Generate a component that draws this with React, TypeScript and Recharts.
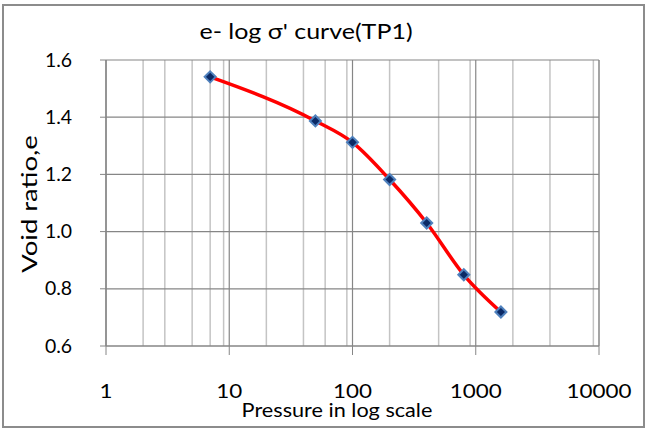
import React from 'react';
import { LineChart, Line, XAxis, YAxis, CartesianGrid, Customized } from 'recharts';

const pressures = [7, 50, 100, 200, 400, 800, 1600];
const voidRatios = [1.541, 1.387, 1.312, 1.182, 1.03, 0.849, 0.719];
const xTicks = [1, 10, 100, 1000, 10000];
const minorTicks = [
  2, 3, 4, 5, 6, 7, 8, 9,
  20, 30, 40, 50, 60, 70, 80, 90,
  200, 300, 400, 500, 600, 700, 800, 900,
  2000, 3000, 4000, 5000, 6000, 7000, 8000, 9000,
];
const yTicks = [0.6, 0.8, 1.0, 1.2, 1.4, 1.6];
const chartTitle = "e- log σ' curve(TP1)";
const xLabel = 'Pressure in log scale';
const yLabel = 'Void ratio,e';

const data = pressures.map((p, i) => ({ p, e: voidRatios[i] }));

const FONT = "Lato, 'Open Sans', sans-serif";
const MAJOR = '#868686';
const MINOR = '#c4c4c4';

const XTick = (props: any) => {
  const { x, y, payload } = props;
  return (
    <g transform={`translate(${x},${y}) scale(1.18,1)`}>
      <text x={0} y={0} dy={43} textAnchor="middle" fontFamily={FONT} fontSize={19} fill="#000">
        {payload.value}
      </text>
    </g>
  );
};

const YTick = (props: any) => {
  const { x, y, payload } = props;
  return (
    <g transform={`translate(${x - 28},${y}) scale(1.05,1)`}>
      <text x={0} y={0} dy={6.5} textAnchor="end" fontFamily={FONT} fontSize={18.5} fill="#000">
        {Number(payload.value).toFixed(1)}
      </text>
    </g>
  );
};

const Diamond = (props: any) => {
  const { cx, cy } = props;
  if (cx == null || cy == null) return null;
  const r = 5.5;
  return (
    <polygon
      points={`${cx},${cy - r} ${cx + r},${cy} ${cx},${cy + r} ${cx - r},${cy}`}
      fill="#0b2a66"
      stroke="#4f81bd"
      strokeWidth={2}
    />
  );
};

const Decor = () => (
  <g>
    <rect x={3} y={5} width={641} height={422} fill="none" stroke="#8c8c8c" strokeWidth={2} />
    <g transform={`translate(306,39) scale(1.22,1)`}>
      <text x={0} y={0} textAnchor="middle" fontFamily={FONT} fontSize={20.5} fill="#000">
        {chartTitle}
      </text>
    </g>
    <g transform={`translate(337,417) scale(1.14,1)`}>
      <text x={0} y={0} textAnchor="middle" fontFamily={FONT} fontSize={19} fill="#000">
        {xLabel}
      </text>
    </g>
    <g transform={`translate(37,204) rotate(-90) scale(1.25,1)`}>
      <text x={0} y={0} textAnchor="middle" fontFamily={FONT} fontSize={22} fill="#000">
        {yLabel}
      </text>
    </g>
  </g>
);

export default function App() {
  return (
    <div style={{ position: 'absolute', left: 0, top: 0, width: 647, height: 428, background: '#fff' }}>
      <LineChart width={647} height={428} data={data} margin={{ top: 60, right: 48, bottom: 0, left: 0 }}>
        <XAxis
          xAxisId="minor"
          dataKey="p"
          type="number"
          scale="log"
          domain={[1, 10000]}
          ticks={minorTicks}
          allowDataOverflow
          hide
        />
        <CartesianGrid xAxisId="minor" horizontal={false} stroke={MINOR} strokeWidth={1.5} />
        <CartesianGrid stroke={MAJOR} strokeWidth={1.2} />
        <XAxis
          dataKey="p"
          type="number"
          scale="log"
          domain={[1, 10000]}
          ticks={xTicks}
          allowDataOverflow
          interval={0}
          height={82}
          tickSize={9}
          tickMargin={0}
          stroke={MAJOR}
          tickLine={{ stroke: MAJOR }}
          tick={<XTick />}
        />
        <YAxis
          type="number"
          domain={[0.6, 1.6]}
          ticks={yTicks}
          interval={0}
          width={106}
          tickSize={6}
          tickMargin={0}
          stroke={MAJOR}
          tickLine={{ stroke: MAJOR }}
          tick={<YTick />}
        />
        <Line
          type="monotone"
          dataKey="e"
          stroke="#ff0000"
          strokeWidth={3.5}
          dot={<Diamond />}
          activeDot={false}
          isAnimationActive={false}
        />
        <Customized component={<Decor />} />
      </LineChart>
    </div>
  );
}
